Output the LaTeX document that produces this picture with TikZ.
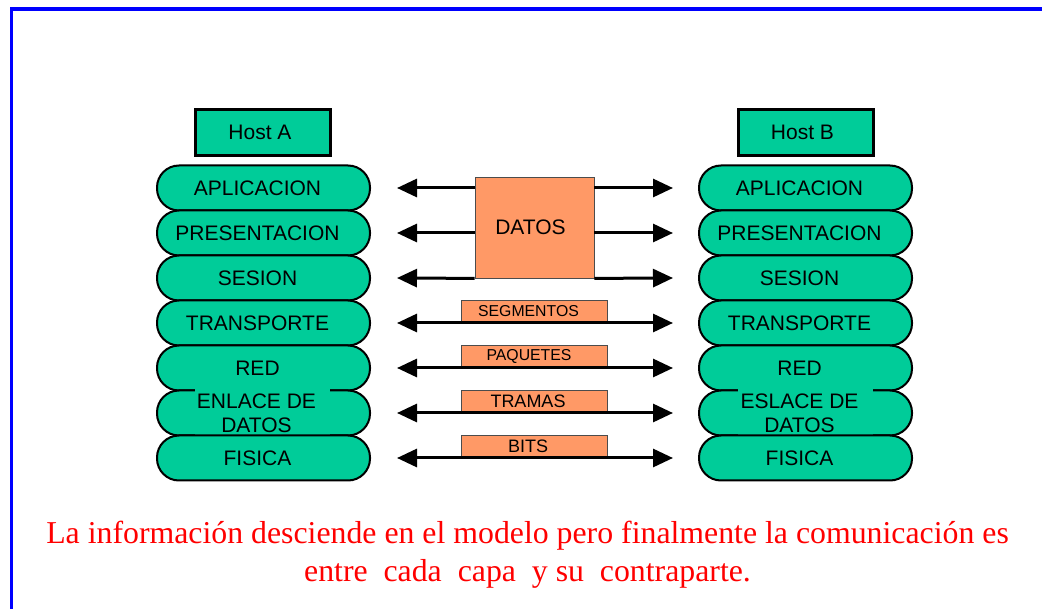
\documentclass[tikz,border=0pt]{standalone}
\usepackage{fontspec}
\setmainfont{Liberation Serif}
\newfontfamily\arialf{Liberation Sans}
\usetikzlibrary{arrows.meta}
\definecolor{pgreen}{HTML}{00CC99}
\definecolor{porange}{HTML}{FF9966}
\definecolor{pblue}{HTML}{0000FF}
\definecolor{pred}{HTML}{FF0000}
\newcommand{\lsh}[1]{\hspace*{-12pt}#1}
\begin{document}
\begin{tikzpicture}[x=1pt,y=-1pt,
  pill/.style={draw=black, line width=2pt, fill=pgreen, rounded corners=22pt,
    minimum width=213pt, minimum height=45pt, inner sep=0pt,
    font=\arialf\fontsize{21}{24}\selectfont},
  pilltext/.style={fill=pgreen, minimum width=135pt, minimum height=50pt, inner sep=0pt,
    align=center, font=\arialf\fontsize{21}{24}\selectfont},
  hostbox/.style={draw=black, line width=3pt, fill=pgreen, minimum width=135pt,
    minimum height=46pt, inner sep=0pt, font=\arialf\fontsize{21}{24}\selectfont},
  pdu/.style={draw=black!70, line width=0.8pt, fill=porange, minimum width=146pt,
    minimum height=23pt, inner sep=0pt},
  arr/.style={line width=3pt, -{Triangle[length=20pt,width=18pt]}},
  biarr/.style={line width=3pt, {Triangle[length=20pt,width=18pt]}-{Triangle[length=20pt,width=18pt]}},
  caption/.style={text=pred, font=\fontsize{31.8}{38}\selectfont, inner sep=0pt, anchor=base}
]
\useasboundingbox (0,0) rectangle (1042,609);
\clip (0,0) rectangle (1042,609);
\fill[white] (0,0) rectangle (1042,609);
\draw[pblue, line width=3.5pt] (11.5,9) rectangle (1100,700);

% Host boxes
\node[hostbox] (hA) at (263,132.5) {\hspace*{-6pt}Host A};
\node[hostbox] (hB) at (805.5,132.5) {\hspace*{-6pt}Host B};

% Left stack
\node[pill] (a1) at (263.5,188) {\lsh{APLICACION}};
\node[pill] (a2) at (263.5,233) {\lsh{PRESENTACION}};
\node[pill] (a3) at (263.5,278) {\lsh{SESION}};
\node[pill] (a4) at (263.5,323) {\lsh{TRANSPORTE}};
\node[pill] (a5) at (263.5,368) {\lsh{RED}};
\node[pill] (a6) at (263.5,413) {};
\node[pilltext] (a6t) at (262.5,413) {\lsh{ENLACE DE}\\\lsh{DATOS}};
\node[pill] (a7) at (263.5,458) {\lsh{FISICA}};

% Right stack
\node[pill] (b1) at (805.5,188) {\lsh{APLICACION}};
\node[pill] (b2) at (805.5,233) {\lsh{PRESENTACION}};
\node[pill] (b3) at (805.5,278) {\lsh{SESION}};
\node[pill] (b4) at (805.5,323) {\lsh{TRANSPORTE}};
\node[pill] (b5) at (805.5,368) {\lsh{RED}};
\node[pill] (b6) at (805.5,413) {};
\node[pilltext] (b6t) at (805.5,413) {\lsh{ESLACE DE}\\\lsh{DATOS}};
\node[pill] (b7) at (805.5,458) {\lsh{FISICA}};

% DATOS box
\node[pdu, minimum width=119pt, minimum height=101pt,
  font=\arialf\fontsize{21}{24}\selectfont] (d) at (534.5,227.5) {\hspace*{-8pt}DATOS};

% arrow end points
\coordinate (l1) at (397,188); \coordinate (r1) at (673,188);
\coordinate (l2) at (397,233); \coordinate (r2) at (673,233);
\coordinate (l3) at (397,278); \coordinate (r3) at (673,278);
\coordinate (l4) at (397,323); \coordinate (r4) at (673,323);
\coordinate (l5) at (397,368); \coordinate (r5) at (673,368);
\coordinate (l6) at (397,413); \coordinate (r6) at (673,413);
\coordinate (l7) at (397,458); \coordinate (r7) at (673,458);

\draw[arr] (d.west |- l1) -- (l1);
\draw[arr] (d.east |- r1) -- (r1);
\draw[arr] (d.west |- l2) -- (l2);
\draw[arr] (d.east |- r2) -- (r2);
\draw[arr] (d.south west) -- (l3);
\draw[arr] (d.south east) -- (r3);

% PDU labels
\node[pdu, font=\arialf\fontsize{15.8}{18}\selectfont] (p4) at (534,311.5) {\hspace*{-11pt}SEGMENTOS};
\node[pdu, font=\arialf\fontsize{15.8}{18}\selectfont] (p5) at (534,356.5) {\hspace*{-10pt}PAQUETES};
\node[pdu, font=\arialf\fontsize{18}{20}\selectfont] (p6) at (534,401.5) {\hspace*{-12pt}TRAMAS};
\node[pdu, font=\arialf\fontsize{18}{20}\selectfont] (p7) at (534,446.5) {\hspace*{-12pt}BITS};

\draw[biarr] (l4) -- (r4);
\draw[biarr] (l5) -- (r5);
\draw[biarr] (l6) -- (r6);
\draw[biarr] (l7) -- (r7);

% caption
\node[caption] (c1) at (527.5,543) {La información desciende en el modelo pero finalmente la comunicación es};
\node[caption] (c2) at (527.5,581) {entre\ \ cada\ \ capa\ \ y su\ \ contraparte.};
\end{tikzpicture}
\end{document}
